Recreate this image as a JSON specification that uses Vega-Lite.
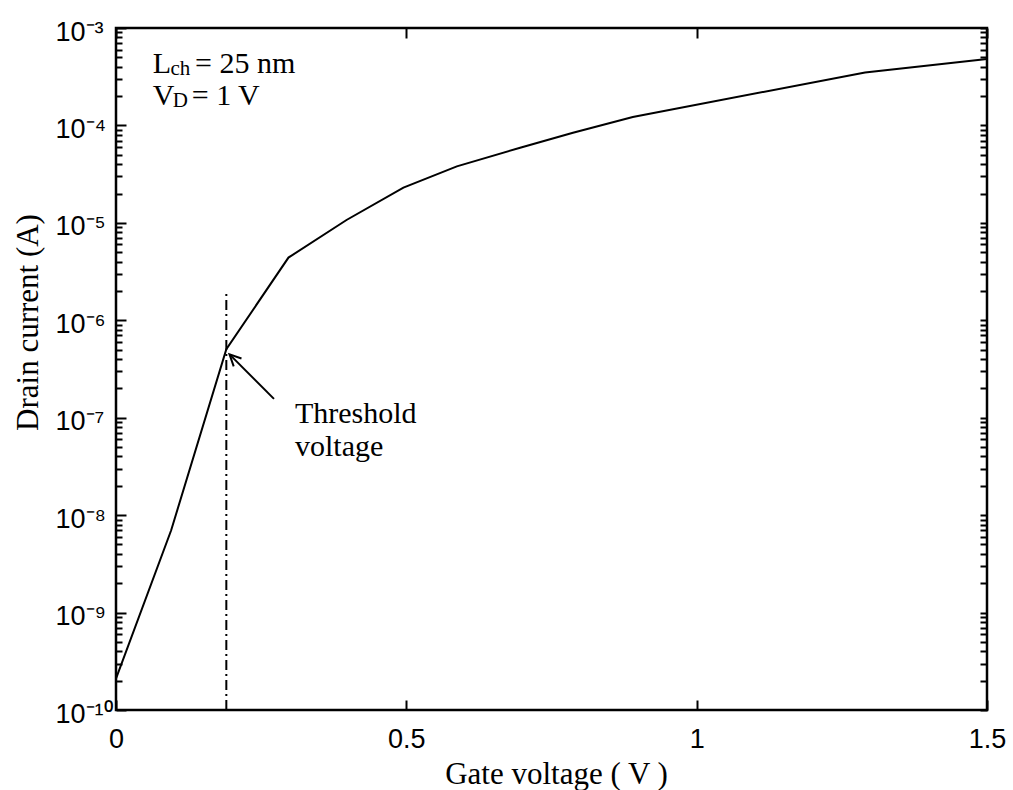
{
  "$schema": "https://vega.github.io/schema/vega-lite/v6.json",
  "width": 871,
  "height": 682,
  "autosize": {"type": "none"},
  "padding": {"left": 116, "top": 28, "right": 26, "bottom": 80},
  "background": "white",
  "config": {
    "view": {"stroke": "black", "strokeWidth": 2.5},
    "axis": {"tickColor": "black", "labelColor": "black", "titleColor": "black"}
  },
  "resolve": {"axis": {"x": "independent", "y": "independent"}},
  "layer": [
    {
      "data": {"values": [
        {"v": 0, "i": 2.1e-10},
        {"v": 0.095, "i": 7e-9},
        {"v": 0.19, "i": 5.05e-7},
        {"v": 0.297, "i": 4.4e-6},
        {"v": 0.397, "i": 1.07e-5},
        {"v": 0.495, "i": 2.3e-5},
        {"v": 0.587, "i": 3.8e-5},
        {"v": 0.696, "i": 5.9e-5},
        {"v": 0.787, "i": 8.4e-5},
        {"v": 0.89, "i": 1.22e-4},
        {"v": 1.29, "i": 3.5e-4},
        {"v": 1.5, "i": 4.8e-4}
      ]},
      "mark": {"type": "line", "color": "black", "strokeWidth": 2},
      "encoding": {
        "x": {
          "field": "v", "type": "quantitative",
          "scale": {"domain": [0, 1.5], "nice": false, "zero": false},
          "axis": {
            "orient": "bottom", "values": [0, 0.5, 1, 1.5],
            "labelExpr": "datum.value + ''",
            "tickSize": -10, "tickWidth": 2, "labelPadding": 26,
            "labelFont": "Liberation Sans", "labelFontSize": 27,
            "labelFlush": false, "labelOverlap": false,
            "domain": false, "grid": false,
            "title": "Gate voltage ( V )",
            "titleFont": "Liberation Serif", "titleFontSize": 31, "titleFontWeight": "normal",
            "titleX": 440, "titleY": 73, "titleAlign": "center", "titleBaseline": "alphabetic"
          }
        },
        "y": {
          "field": "i", "type": "quantitative",
          "scale": {"type": "log", "domain": [1e-10, 1e-3], "nice": false},
          "axis": {
            "orient": "left",
            "tickCount": 64,
            "labelExpr": "abs(log(datum.value)/LN10 - round(log(datum.value)/LN10)) > 0.001 ? '' : '10⁻' + ['⁰','¹','²','³','⁴','⁵','⁶','⁷','⁸','⁹','¹⁰'][-round(log(datum.value)/LN10)]",
            "tickSize": {"condition": {"test": "abs(log(datum.value)/LN10 - round(log(datum.value)/LN10)) < 0.001", "value": -10}, "value": -6},
            "tickWidth": 2,
            "labelPadding": 71, "labelAlign": "left", "labelBaseline": "middle", "labelOffset": 4,
            "labelFont": "Liberation Sans", "labelFontSize": 27,
            "labelFlush": false, "labelOverlap": false,
            "domain": false, "grid": false,
            "title": "Drain current (A)",
            "titleFont": "Liberation Serif", "titleFontSize": 31, "titleFontWeight": "normal",
            "titleAngle": -90, "titleX": -88, "titleY": 294, "titleAlign": "center", "titleBaseline": "middle"
          }
        }
      }
    },
    {
      "data": {"values": [{"v": 0.19, "lo": 1e-10, "hi": 1.9e-6}]},
      "mark": {"type": "rule", "color": "black", "strokeWidth": 2, "strokeDash": [10, 4, 2, 4]},
      "encoding": {
        "x": {
          "field": "v", "type": "quantitative",
          "scale": {"domain": [0, 1.5], "nice": false, "zero": false},
          "axis": {
            "orient": "top", "values": [0, 0.5, 1, 1.5], "labels": false,
            "tickSize": -10, "tickWidth": 2, "domain": false, "grid": false, "title": null
          }
        },
        "y": {
          "field": "lo", "type": "quantitative",
          "scale": {"type": "log", "domain": [1e-10, 1e-3], "nice": false},
          "axis": {
            "orient": "right",
            "tickCount": 64,
            "labels": false,
            "tickSize": -7,
            "tickWidth": 2, "domain": false, "grid": false, "title": null
          }
        },
        "y2": {"field": "hi"}
      }
    },
    {
      "data": {"values": [
        {"s": "head", "o": 1, "v": 0.2027, "i": 3.37e-7},
        {"s": "head", "o": 2, "v": 0.1955, "i": 4.47e-7},
        {"s": "head", "o": 3, "v": 0.2161, "i": 4.05e-7},
        {"s": "shaft", "o": 1, "v": 0.1955, "i": 4.47e-7},
        {"s": "shaft", "o": 2, "v": 0.2721, "i": 1.56e-7}
      ]},
      "mark": {"type": "line", "color": "black", "strokeWidth": 2},
      "encoding": {
        "x": {"field": "v", "type": "quantitative", "axis": null},
        "y": {"field": "i", "type": "quantitative", "axis": null},
        "detail": {"field": "s"},
        "order": {"field": "o"}
      }
    },
    {
      "data": {"values": [
        {"t": "L", "v": 0.0631, "i": 3.45e-4},
        {"t": "= 25 nm", "v": 0.136, "i": 3.45e-4},
        {"t": "V", "v": 0.0631, "i": 1.62e-4},
        {"t": "= 1 V", "v": 0.1304, "i": 1.62e-4},
        {"t": "Threshold", "v": 0.3082, "i": 8.83e-8},
        {"t": "voltage", "v": 0.3082, "i": 4.05e-8}
      ]},
      "mark": {"type": "text", "font": "Liberation Serif", "fontSize": 30, "align": "left", "baseline": "alphabetic", "color": "black"},
      "encoding": {
        "x": {"field": "v", "type": "quantitative", "axis": null},
        "y": {"field": "i", "type": "quantitative", "axis": null},
        "text": {"field": "t"}
      }
    },
    {
      "data": {"values": [
        {"t": "ch", "v": 0.0939, "i": 3.33e-4},
        {"t": "D", "v": 0.0976, "i": 1.535e-4}
      ]},
      "mark": {"type": "text", "font": "Liberation Serif", "fontSize": 21, "align": "left", "baseline": "alphabetic", "color": "black"},
      "encoding": {
        "x": {"field": "v", "type": "quantitative", "axis": null},
        "y": {"field": "i", "type": "quantitative", "axis": null},
        "text": {"field": "t"}
      }
    }
  ]
}
